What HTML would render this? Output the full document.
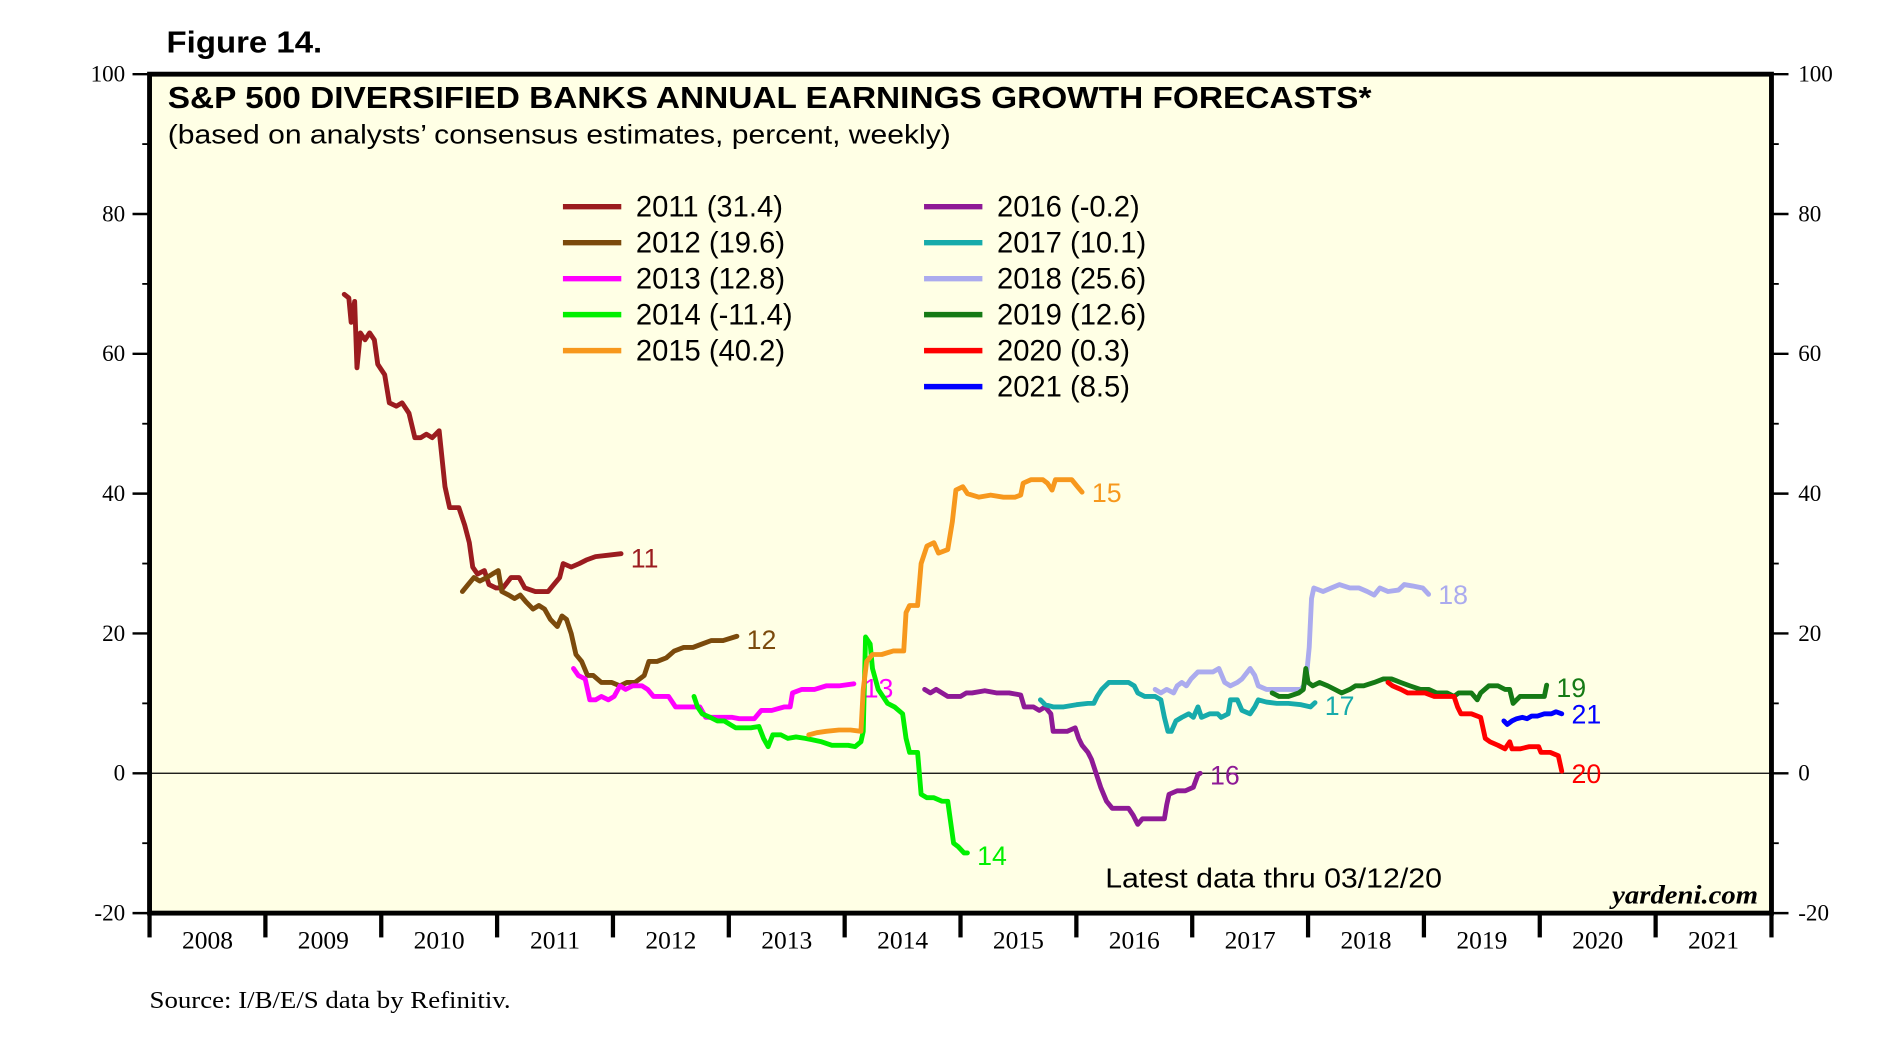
<!DOCTYPE html>
<html><head><meta charset="utf-8"><style>
html,body{margin:0;padding:0;background:#fff;width:1904px;height:1064px;overflow:hidden}
svg{display:block}
.sans{font-family:"Liberation Sans",Arial,sans-serif}
.serif{font-family:"Liberation Serif","Times New Roman",serif}
</style></head><body>
<svg id="chart" width="1904" height="1064" viewBox="0 0 1566 875.1" preserveAspectRatio="none" xmlns="http://www.w3.org/2000/svg">
<text x="137" y="43" class="sans" font-size="25" font-weight="bold" textLength="128" lengthAdjust="spacingAndGlyphs">Figure 14.</text>
<rect x="123" y="61" width="1334" height="690" fill="#FFFFE5"/>
<g id="axes"></g>
<g id="series"></g>
<rect x="123" y="61" width="1334" height="690" fill="none" stroke="#000" stroke-width="4"/>
<text x="138" y="89" class="sans" font-size="25" font-weight="bold" textLength="990" lengthAdjust="spacingAndGlyphs">S&amp;P 500 DIVERSIFIED BANKS ANNUAL EARNINGS GROWTH FORECASTS*</text>
<text x="138" y="118" class="sans" font-size="22" textLength="644" lengthAdjust="spacingAndGlyphs">(based on analysts’ consensus estimates, percent, weekly)</text>
<g id="legend"></g>
<text x="909" y="730" class="sans" font-size="23" textLength="277" lengthAdjust="spacingAndGlyphs">Latest data thru 03/12/20</text>
<text x="1446" y="743" class="serif" font-size="22" font-weight="bold" font-style="italic" text-anchor="end" textLength="120" lengthAdjust="spacingAndGlyphs">yardeni.com</text>
<text x="123" y="829" class="serif" font-size="20" textLength="297" lengthAdjust="spacingAndGlyphs">Source: I/B/E/S data by Refinitiv.</text>
</svg>
<script>
const yTicks = [-20, 0, 20, 40, 60, 80, 100];
const yMinor = [-10, 10, 30, 50, 70, 90];
const years = [2008,2009,2010,2011,2012,2013,2014,2015,2016,2017,2018,2019,2020,2021];
const seriesNames = ['2011','2012','2013','2014','2015','2016','2017','2018','2019','2020','2021'];
const finalValues = ['31.4','19.6','12.8','-11.4','40.2','-0.2','10.1','25.6','12.6','0.3','8.5'];
const colors = ['#9B1C1F','#7B4A0C','#FF00FF','#00F000','#F7981D','#8E1A96','#17ABAB','#ABABEE','#157A15','#FF0000','#0000FF'];

const t2011 = [2009.68,2009.72,2009.74,2009.77,2009.79,2009.82,2009.86,2009.90,2009.94,2009.97,2010.03,2010.07,2010.13,2010.18,2010.24,2010.29,2010.34,2010.39,2010.44,2010.50,2010.55,2010.59,2010.67,2010.72,2010.76,2010.79,2010.83,2010.89,2010.93,2010.99,2011.05,2011.12,2011.19,2011.24,2011.33,2011.44,2011.49,2011.54,2011.57,2011.64,2011.71,2011.77,2011.85,2011.96,2012.07];
const v2011 = [68.5,68,64.5,67.5,58,63,62,63,62,58.5,57,53,52.5,53,51.5,48,48,48.5,48,49,41,38,38,35.5,33,29.5,28.5,29,27,26.5,26.5,28,28,26.5,26,26,27,28,30,29.5,30,30.5,31,31.2,31.4];
const t2012 = [2010.70,2010.75,2010.80,2010.85,2010.91,2010.96,2011.01,2011.04,2011.10,2011.15,2011.20,2011.25,2011.31,2011.36,2011.41,2011.46,2011.52,2011.56,2011.60,2011.64,2011.68,2011.73,2011.78,2011.83,2011.90,2011.99,2012.06,2012.12,2012.19,2012.27,2012.31,2012.38,2012.46,2012.53,2012.61,2012.69,2012.77,2012.85,2012.95,2013.07];
const v2012 = [26,27,28,27.5,28,28.5,29,26,25.5,25,25.5,24.5,23.5,24,23.5,22,21,22.5,22,20,17,16,14,14,13,13,12.5,13,13,14,16,16,16.5,17.5,18,18,18.5,19,19,19.6];
const t2013 = [2011.66,2011.70,2011.76,2011.80,2011.85,2011.90,2011.96,2012.01,2012.06,2012.11,2012.17,2012.25,2012.30,2012.35,2012.43,2012.48,2012.54,2012.62,2012.69,2012.75,2012.80,2012.88,2012.95,2013.03,2013.09,2013.22,2013.28,2013.37,2013.48,2013.53,2013.55,2013.63,2013.74,2013.84,2013.95,2014.08];
const v2013 = [15,14,13.5,10.5,10.5,11,10.5,11,12.5,12,12.5,12.5,12,11,11,11,9.5,9.5,9.5,9.5,8,8,8,8,7.8,7.8,9,9,9.5,9.5,11.5,12,12,12.5,12.5,12.8];
const t2014 = [2012.70,2012.73,2012.77,2012.84,2012.90,2012.96,2013.01,2013.06,2013.13,2013.19,2013.26,2013.30,2013.34,2013.38,2013.45,2013.51,2013.58,2013.66,2013.72,2013.80,2013.89,2013.97,2014.03,2014.09,2014.14,2014.16,2014.18,2014.22,2014.24,2014.29,2014.33,2014.37,2014.43,2014.50,2014.53,2014.56,2014.63,2014.66,2014.71,2014.77,2014.84,2014.89,2014.94,2014.98,2015.03,2015.06];
const v2014 = [11,9.5,8.5,8,7.5,7.5,7,6.5,6.5,6.5,6.7,5,3.8,5.5,5.5,5,5.2,5,4.8,4.5,4,4,4,3.8,4.5,6,19.5,18.5,15,12,11,10,9.5,8.5,5,3,3,-3,-3.5,-3.5,-4,-4,-10,-10.5,-11.4,-11.4];
const t2015 = [2013.69,2013.76,2013.84,2013.95,2014.05,2014.14,2014.16,2014.19,2014.24,2014.32,2014.42,2014.51,2014.53,2014.56,2014.63,2014.66,2014.71,2014.77,2014.81,2014.89,2014.93,2014.96,2015.02,2015.06,2015.16,2015.26,2015.37,2015.47,2015.52,2015.54,2015.61,2015.71,2015.75,2015.79,2015.82,2015.89,2015.96,2016.01,2016.05];
const v2015 = [5.5,5.8,6,6.2,6.2,6,12,16,17,17,17.5,17.5,23,24,24,30,32.5,33,31.5,32,36,40.5,41,40,39.5,39.8,39.5,39.5,39.8,41.5,42,42,41.5,40.5,42,42,42,41,40.2];
const t2016 = [2014.69,2014.74,2014.79,2014.84,2014.89,2015.00,2015.05,2015.10,2015.21,2015.31,2015.42,2015.52,2015.55,2015.63,2015.68,2015.73,2015.78,2015.80,2015.86,2015.92,2015.99,2016.02,2016.05,2016.10,2016.13,2016.17,2016.21,2016.26,2016.31,2016.38,2016.45,2016.49,2016.53,2016.57,2016.64,2016.70,2016.76,2016.78,2016.80,2016.87,2016.94,2017.01,2017.05,2017.07];
const v2016 = [12,11.5,12,11.5,11,11,11.5,11.5,11.8,11.5,11.5,11.2,9.5,9.5,9,9.5,8.5,6,6,6,6.5,5,4,3,2,0,-2,-4,-5,-5,-5,-6,-7.3,-6.5,-6.5,-6.5,-6.5,-4.5,-3,-2.5,-2.5,-2,-0.2,0];
const t2017 = [2015.69,2015.73,2015.80,2015.89,2016.00,2016.10,2016.15,2016.18,2016.22,2016.28,2016.36,2016.45,2016.50,2016.53,2016.59,2016.68,2016.73,2016.76,2016.79,2016.82,2016.86,2016.91,2016.97,2017.01,2017.05,2017.08,2017.15,2017.22,2017.25,2017.31,2017.33,2017.39,2017.43,2017.50,2017.54,2017.57,2017.64,2017.73,2017.83,2017.94,2018.02,2018.06];
const v2017 = [10.5,9.8,9.5,9.5,9.8,10,10,11,12,13,13,13,12.5,11.5,11,11,10.5,8,6,6,7.5,8,8.5,8,9.5,8,8.5,8.5,8,8.5,10.5,10.5,9,8.5,9.5,10.5,10.2,10,10,9.8,9.5,10.1];
const t2018 = [2016.68,2016.73,2016.78,2016.84,2016.87,2016.91,2016.95,2016.99,2017.05,2017.12,2017.18,2017.23,2017.28,2017.33,2017.39,2017.43,2017.50,2017.54,2017.57,2017.64,2017.73,2017.83,2017.94,2017.98,2018.01,2018.03,2018.05,2018.13,2018.20,2018.27,2018.36,2018.44,2018.51,2018.57,2018.62,2018.69,2018.78,2018.83,2018.90,2018.99,2019.04];
const v2018 = [12,11.5,12,11.5,12.5,13,12.5,13.5,14.5,14.5,14.5,15,13,12.5,13,13.5,15,14,12.5,12,12,12,12,13,18,25,26.5,26,26.5,27,26.5,26.5,26,25.5,26.5,26,26.2,27,26.8,26.5,25.6];
const t2019 = [2017.69,2017.75,2017.83,2017.92,2017.96,2017.98,2018.00,2018.04,2018.10,2018.17,2018.23,2018.29,2018.36,2018.41,2018.48,2018.57,2018.65,2018.72,2018.80,2018.88,2018.97,2019.04,2019.11,2019.20,2019.26,2019.30,2019.35,2019.41,2019.46,2019.49,2019.56,2019.64,2019.70,2019.74,2019.77,2019.83,2019.91,2019.98,2020.04,2020.06];
const v2019 = [11.5,11,11,11.5,12,15,13,12.5,13,12.5,12,11.5,12,12.5,12.5,13,13.5,13.5,13,12.5,12,12,11.5,11.5,11,11.5,11.5,11.5,10.5,11.5,12.5,12.5,12,12,10,11,11,11,11,12.6];
const t2020 = [2018.69,2018.73,2018.80,2018.86,2018.93,2019.01,2019.09,2019.18,2019.26,2019.29,2019.32,2019.41,2019.49,2019.53,2019.57,2019.64,2019.70,2019.74,2019.76,2019.83,2019.91,2019.99,2020.01,2020.09,2020.16,2020.19];
const v2020 = [13,12.5,12,11.5,11.5,11.5,11,11,11,9.5,8.5,8.5,8,5,4.5,4,3.5,4.5,3.5,3.5,3.8,3.8,3,3,2.5,0.3];
const t2021 = [2019.69,2019.72,2019.76,2019.80,2019.85,2019.89,2019.93,2019.98,2020.04,2020.10,2020.14,2020.19];
const v2021 = [7.5,7,7.5,7.8,8,7.8,8.2,8.2,8.5,8.5,8.8,8.5];
const endLabels = ['11','12','13','14','15','16','17','18','19','20','21'];
const endLabelValues = [30.8,19.2,12.2,-11.7,40.2,-0.2,9.7,25.6,12.3,0,8.5];

const times = [t2011,t2012,t2013,t2014,t2015,t2016,t2017,t2018,t2019,t2020,t2021];
const vals = [v2011,v2012,v2013,v2014,v2015,v2016,v2017,v2018,v2019,v2020,v2021];

const X0=123, X1=1457, Y0=751, Y1=61;
function xScale(t){ return X0 + (t-2008)/14*(X1-X0); }
function yScale(v){ return Y0 - (v+20)/120*(Y0-Y1); }
const NS='http://www.w3.org/2000/svg';
function mk(tag, attrs, parent){ const e=document.createElementNS(NS,tag); for(const k in attrs) e.setAttribute(k,attrs[k]); parent.appendChild(e); return e; }

const axes=document.getElementById('axes');
const zl=mk('line',{x1:X0,x2:X1,y1:yScale(0),y2:yScale(0),stroke:'#000','stroke-width':1},axes);


yTicks.forEach(v=>{
  const y=yScale(v);
  const tl=mk('line',{x1:X0-14,x2:X0,y1:y,y2:y,stroke:'#000','stroke-width':2},axes);
  
  
  const tr=mk('line',{x1:X1,x2:X1+14,y1:y,y2:y,stroke:'#000','stroke-width':2},axes);
  
  
  const a=mk('text',{x:X0-20,y:y+6,'text-anchor':'end','font-size':19,class:'serif'},axes);
  a.textContent=v;
  
  
  const b=mk('text',{x:X1+22,y:y+6,'text-anchor':'start','font-size':19,class:'serif'},axes);
  b.textContent=v;
  
  
});
yMinor.forEach(v=>{
  const y=yScale(v);
  const m1=mk('line',{x1:X0-6,x2:X0,y1:y,y2:y,stroke:'#000','stroke-width':1.5},axes);
  
  
  const m2=mk('line',{x1:X1,x2:X1+6,y1:y,y2:y,stroke:'#000','stroke-width':1.5},axes);
  
  
});
for(let i=0;i<=years.length;i++){
  const x=xScale(2008+i);
  const tk=mk('line',{x1:x,x2:x,y1:Y0,y2:Y0+20,stroke:'#000','stroke-width':3.5},axes);
  
  
}
years.forEach(yr=>{
  const t=mk('text',{x:xScale(yr+0.5),y:Y0+29,'text-anchor':'middle','font-size':21,class:'serif'},axes);
  t.textContent=yr;
  
  
});

const sg=document.getElementById('series');
times.forEach((ts,i)=>{
  const d=ts.map((t,j)=>(j?'L':'M')+xScale(t).toFixed(1)+' '+yScale(vals[i][j]).toFixed(1)).join(' ');
  const p=mk('path',{d:d,fill:'none',stroke:colors[i],'stroke-width':4,'stroke-linejoin':'round','stroke-linecap':'round'},sg);
  
  
  const lt=ts[ts.length-1];
  const l=mk('text',{x:xScale(lt)+8,y:yScale(endLabelValues[i])+8,fill:colors[i],'font-size':22,class:'sans'},sg);
  l.textContent=endLabels[i];
  
  
});

const lg=document.getElementById('legend');
seriesNames.forEach((n,i)=>{
  const col=i<5?0:1, row=i<5?i:i-5;
  const lx=col?760:463, ly=170+row*29.6;
  const ln=mk('line',{x1:lx,x2:lx+48,y1:ly,y2:ly,stroke:colors[i],'stroke-width':4.5},lg);
  
  
  const t=mk('text',{x:lx+60,y:ly+8,'font-size':24,class:'sans'},lg);
  t.textContent=n+' ('+finalValues[i]+')';
  
  
});
</script>
</body></html>
